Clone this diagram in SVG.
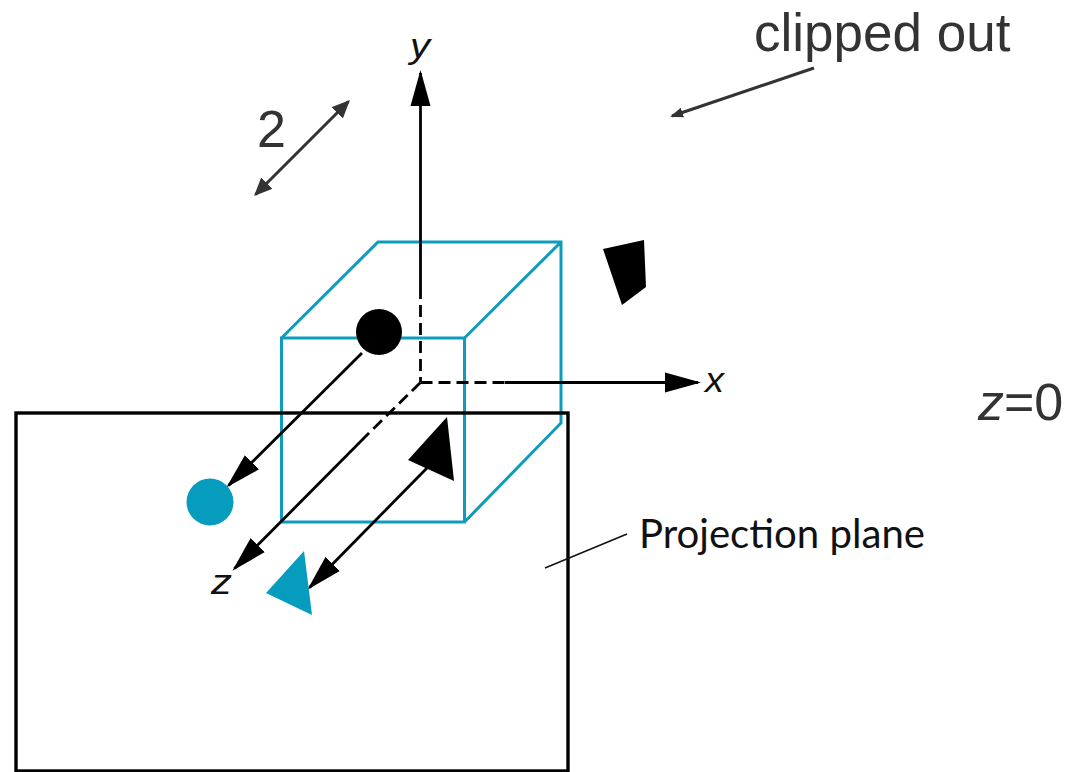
<svg xmlns="http://www.w3.org/2000/svg" width="1066" height="772" viewBox="0 0 1066 772">
<style>
.cube{fill:none;stroke:#0e9cbd;stroke-width:3;stroke-linejoin:miter}
.ax{fill:none;stroke:#000;stroke-width:2.800}
.dash{stroke-dasharray:12 6}
.big{font-family:"Liberation Sans",Arial,sans-serif;fill:#333}
.lab{font-family:"Liberation Sans",Arial,sans-serif;font-style:italic;fill:#111;font-size:35px}
.dim{fill:none;stroke:#333;stroke-width:3}
</style>
<defs>
<marker id="blk" markerUnits="userSpaceOnUse" markerWidth="38" markerHeight="22" viewBox="0 -11 38 22" refX="33" refY="0" orient="auto"><path d="M0,-10L36,0L0,10Z" fill="#000"/></marker>
<marker id="gry" markerUnits="userSpaceOnUse" markerWidth="20" markerHeight="18" viewBox="0 -9 20 18" refX="16" refY="0" orient="auto-start-reverse"><path d="M0,-8L18,0L0,8Z" fill="#333"/></marker>
<marker id="gry2" markerUnits="userSpaceOnUse" markerWidth="14" markerHeight="12" viewBox="0 -6 14 12" refX="11" refY="0" orient="auto"><path d="M0,-5L13,0L0,5Z" fill="#333"/></marker>
</defs>
<rect width="1066" height="772" fill="#fff"/>
<g id="cube">
<path class="cube" d="M281.500,338H464.500V522H281.500ZM281.500,338L378,242H561V423L464.500,522M464.500,338L561,242"/>
</g>
<g id="projection-plane">
<rect x="16" y="413" width="552" height="358" fill="none" stroke="#000" stroke-width="3.400"/>
</g>
<g id="connectors">
<path class="ax" d="M420.500,287V73" marker-end="url(#blk)"/>
<path class="ax dash" d="M420.500,287V382"/>
<path class="ax dash" d="M420.500,382.500H505"/>
<path class="ax" d="M505,382.500H698" marker-end="url(#blk)"/>
<path class="ax dash" d="M420.500,382.500L369,433"/>
<path class="ax" d="M369,433L234.500,568.500" marker-end="url(#blk)"/>
<path class="ax" d="M362,353L228.500,485.500" marker-end="url(#blk)"/>
<path class="ax" d="M427,468L309.500,587.500" marker-end="url(#blk)"/>
<path d="M627,534L545,568" fill="none" stroke="#111" stroke-width="1.500"/>
<path class="dim" d="M348.500,101.500L255.500,194.500" marker-start="url(#gry)" marker-end="url(#gry)"/>
<path class="dim" d="M814,68L672,116" marker-end="url(#gry2)"/>
</g>
<g id="point-black"><circle cx="379" cy="332" r="23" fill="#000"/></g>
<g id="point-projected"><circle cx="210" cy="502" r="23.500" fill="#059cbe"/></g>
<g id="triangle-black"><polygon points="447,417 408,460 454,481" fill="#000"/></g>
<g id="triangle-projected"><polygon points="304,551 266,593 312,615" fill="#059cbe"/></g>
<g id="clipped-shape"><polygon points="603,249 644,240 646,287 622,305" fill="#000"/></g>
<g id="label-y"><text class="lab" x="410" y="58" textLength="20" lengthAdjust="spacingAndGlyphs">y</text></g>
<g id="label-x"><text class="lab" x="705" y="392" textLength="19" lengthAdjust="spacingAndGlyphs">x</text></g>
<g id="label-z"><text class="lab" x="211" y="594" textLength="21" lengthAdjust="spacingAndGlyphs">z</text></g>
<g id="label-2"><text class="big" x="257" y="147" font-size="52">2</text></g>
<g id="label-clipped"><text class="big" x="754" y="51" font-size="53">clipped out</text></g>
<g id="label-z0"><text class="big" x="978" y="420" font-size="52"><tspan font-style="italic">z</tspan>=0</text></g>
<g id="label-plane"><text x="639" y="548" font-family="Lato,'Liberation Sans',sans-serif" font-size="41" fill="#111" textLength="286" lengthAdjust="spacingAndGlyphs">Projection plane</text></g>
</svg>
